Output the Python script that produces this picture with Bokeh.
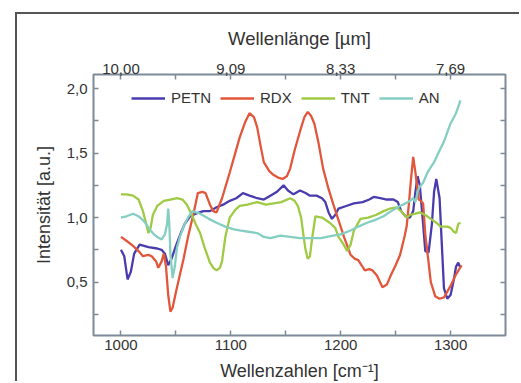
from bokeh.plotting import figure
from bokeh.models import Range1d, LinearAxis, FixedTicker, Legend, LegendItem
from bokeh.embed import file_html
from bokeh.resources import INLINE

# ---------------- data ----------------
petn_x = [1000, 1003, 1006, 1009, 1012, 1017, 1025, 1033, 1037, 1040, 1043, 1046, 1050, 1054, 1058, 1063,
          1068, 1075, 1081, 1087, 1093, 1099, 1105, 1111, 1117, 1124, 1130, 1136, 1142, 1148, 1152, 1157,
          1163, 1168, 1172, 1178, 1183, 1186, 1189, 1192, 1195, 1198, 1205, 1212, 1220, 1226, 1230, 1236,
          1242, 1248, 1252, 1255, 1259, 1263, 1266, 1268, 1270, 1272, 1275, 1277, 1280, 1283, 1285, 1287,
          1290, 1292, 1294, 1297, 1300, 1303, 1305, 1307, 1309]
petn_y = [0.75, 0.70, 0.52, 0.58, 0.72, 0.79, 0.77, 0.76, 0.75, 0.72, 0.63, 0.68, 0.78, 0.87, 0.95, 1.01,
          1.03, 1.05, 1.05, 1.08, 1.10, 1.13, 1.15, 1.19, 1.17, 1.15, 1.14, 1.17, 1.20, 1.25, 1.21, 1.18,
          1.21, 1.19, 1.17, 1.17, 1.15, 1.12, 1.04, 0.99, 1.02, 1.07, 1.09, 1.11, 1.12, 1.14, 1.16, 1.15,
          1.14, 1.14, 1.12, 1.05, 1.01, 1.00, 1.05, 1.20, 1.32, 1.25, 0.95, 0.74, 0.73, 0.95, 1.20, 1.30,
          1.15, 0.80, 0.45, 0.37, 0.40, 0.52, 0.62, 0.65, 0.61]

rdx_x = [1000, 1005, 1011, 1016, 1020, 1025, 1028, 1032, 1034, 1037, 1039, 1041, 1043, 1045, 1047, 1050,
         1054, 1057, 1061, 1066, 1070, 1074, 1077, 1081, 1084, 1087, 1092, 1099, 1104, 1108, 1113, 1117,
         1121, 1124, 1127, 1130, 1135, 1139, 1143, 1147, 1151, 1154, 1158, 1163, 1167, 1170, 1173, 1176,
         1180, 1184, 1189, 1193, 1198, 1203, 1209, 1213, 1216, 1219, 1222, 1226, 1229, 1233, 1238, 1242,
         1245, 1250, 1254, 1258, 1260, 1262, 1264, 1266, 1268, 1271, 1273, 1275, 1277, 1280, 1282, 1286,
         1290, 1294, 1300, 1305, 1310]
rdx_y = [0.85, 0.82, 0.78, 0.74, 0.70, 0.71, 0.70, 0.66, 0.61, 0.66, 0.72, 0.62, 0.40, 0.27, 0.30, 0.42,
         0.57, 0.68, 0.85, 1.03, 1.19, 1.20, 1.19, 1.10, 1.05, 1.04, 1.15, 1.35, 1.50, 1.62, 1.74, 1.81,
         1.78, 1.70, 1.56, 1.43, 1.36, 1.33, 1.31, 1.30, 1.32, 1.38, 1.52, 1.67, 1.78, 1.82, 1.79, 1.73,
         1.57, 1.38, 1.22, 1.11, 0.98, 0.85, 0.71, 0.68, 0.67, 0.63, 0.59, 0.60, 0.59, 0.55, 0.46, 0.48,
         0.54, 0.63, 0.71, 0.85, 0.93, 1.10, 1.30, 1.47, 1.35, 1.14, 1.13, 1.11, 0.87, 0.65, 0.50, 0.39,
         0.37, 0.38, 0.47, 0.56, 0.63]

tnt_x = [1000, 1005, 1011, 1016, 1020, 1023, 1025, 1027, 1029, 1033, 1039, 1045, 1051, 1056, 1060, 1064,
         1068, 1072, 1076, 1081, 1084, 1087, 1090, 1092, 1095, 1099, 1104, 1108, 1115, 1124, 1132, 1139,
         1146, 1154, 1158, 1161, 1164, 1166, 1168, 1170, 1172, 1174, 1177, 1183, 1190, 1195, 1198, 1202,
         1206, 1209, 1212, 1218, 1225, 1232, 1239, 1245, 1251, 1256, 1260, 1263, 1268, 1272, 1277, 1282,
         1287, 1291, 1297, 1300, 1303, 1305, 1307, 1309]
tnt_y = [1.18, 1.18, 1.17, 1.14, 1.05, 0.95, 0.88, 0.92, 1.02, 1.09, 1.13, 1.14, 1.15, 1.14, 1.10, 1.03,
         0.95, 0.88, 0.77, 0.65, 0.61, 0.59, 0.61, 0.66, 0.85, 1.00, 1.06, 1.09, 1.10, 1.12, 1.10, 1.11,
         1.12, 1.15, 1.13, 1.09, 1.00, 0.87, 0.75, 0.68, 0.70, 0.84, 1.01, 1.00, 0.96, 0.92, 0.85, 0.80,
         0.74, 0.79, 0.90, 0.99, 1.00, 1.02, 1.05, 1.07, 1.08, 1.04, 1.00, 1.02, 1.03, 1.04, 1.02, 0.99,
         0.96, 0.93, 0.93, 0.92, 0.89, 0.88, 0.95, 0.96]

an_x = [1000, 1005, 1011, 1016, 1020, 1023, 1026, 1030, 1033, 1037, 1040, 1042, 1043, 1044, 1045, 1047,
        1049, 1051, 1054, 1057, 1061, 1065, 1072, 1080, 1087, 1095, 1102, 1108, 1116, 1124, 1130, 1136,
        1145, 1154, 1163, 1172, 1182, 1193, 1200, 1209, 1216, 1224, 1231, 1239, 1246, 1254, 1259, 1263,
        1266, 1268, 1270, 1272, 1275, 1279, 1285, 1290, 1294, 1300, 1305, 1309]
an_y = [1.00, 1.01, 1.03, 1.01, 0.98, 0.95, 0.91, 0.87, 0.85, 0.83, 0.87, 0.95, 1.07, 0.95, 0.72, 0.53,
        0.62, 0.77, 0.86, 0.93, 1.00, 1.05, 1.03, 0.99, 0.96, 0.93, 0.91, 0.90, 0.89, 0.88, 0.85, 0.84,
        0.86, 0.85, 0.84, 0.84, 0.84, 0.86, 0.87, 0.90, 0.93, 0.96, 0.98, 1.01, 1.05, 1.09, 1.11, 1.13,
        1.15, 1.12, 1.20, 1.24, 1.27, 1.35, 1.43, 1.52, 1.59, 1.73, 1.81, 1.91]

x_ticks = [1000, 1100, 1200, 1300]
x_minor = [1050, 1150, 1250]
top_labels = ["10,00", "9,09", "8,33", "7,69"]
y_ticks = [0.5, 1.0, 1.5, 2.0]
y_minor = [0.25, 0.75, 1.25, 1.75]
y_labels = ["0,5", "1,0", "1,5", "2,0"]

series_names = ["PETN", "RDX", "TNT", "AN"]
colors = ["#4a3cae", "#e2573b", "#9fcb44", "#85cec2"]

# ---------------- figure ----------------
FONT = "Liberation Sans"
TXT = "#333333"
FRAME = "#7d8a99"

p = figure(width=504, height=369, output_backend="svg", toolbar_location=None,
           x_range=Range1d(975, 1350), y_range=Range1d(0.085, 2.11),
           x_axis_location=None, y_axis_location=None,
           min_border_left=76, min_border_top=60, min_border_right=16, min_border_bottom=41,
           background_fill_color="white", border_fill_color="white",
           styles={"margin-left": "15px", "margin-top": "12px",
                   "border-left": "2px solid #555555", "border-top": "2px solid #555555"})
p.grid.visible = False
p.outline_line_color = FRAME
p.outline_line_width = 2


def style_axis(ax):
    ax.axis_line_color = None
    ax.major_tick_in = 5
    ax.major_tick_out = 0
    ax.minor_tick_in = 5
    ax.minor_tick_out = 0
    ax.major_tick_line_color = FRAME
    ax.minor_tick_line_color = FRAME
    ax.major_tick_line_width = 1.5
    ax.minor_tick_line_width = 1.5
    ax.major_label_text_font = FONT
    ax.major_label_text_font_size = "15px"
    ax.major_label_text_color = TXT
    ax.axis_label_text_font = FONT
    ax.axis_label_text_font_size = "18px"
    ax.axis_label_text_font_style = "normal"
    ax.axis_label_text_color = TXT


xb = LinearAxis(ticker=FixedTicker(ticks=x_ticks, minor_ticks=x_minor),
                axis_label="Wellenzahlen [cm\u207b\u00b9]")
style_axis(xb)
xb.major_label_standoff = 4
xb.axis_label_standoff = 8
p.add_layout(xb, "below")

xt = LinearAxis(ticker=FixedTicker(ticks=x_ticks, minor_ticks=x_minor),
                axis_label="Wellenlänge [µm]",
                major_label_overrides={t: l for t, l in zip(x_ticks, top_labels)})
style_axis(xt)
xt.axis_label_text_font_size = "18.5px"
xt.major_label_standoff = 1
xt.axis_label_standoff = 12
p.add_layout(xt, "above")

yl = LinearAxis(ticker=FixedTicker(ticks=y_ticks, minor_ticks=y_minor),
                axis_label="Intensität [a.u.]",
                major_label_overrides={t: l for t, l in zip(y_ticks, y_labels)})
style_axis(yl)
yl.major_label_standoff = 6
yl.axis_label_standoff = 10
p.add_layout(yl, "left")

# right side: tick marks only (all as minor ticks, so no labels are drawn)
yr = LinearAxis(ticker=FixedTicker(ticks=[], minor_ticks=sorted(y_ticks + y_minor)))
style_axis(yr)
yr.major_label_standoff = 0
p.add_layout(yr, "right")

data = [(petn_x, petn_y), (rdx_x, rdx_y), (tnt_x, tnt_y), (an_x, an_y)]
renderers = []
for (xs, ys), c in zip(data, colors):
    r = p.line(xs, ys, line_color=c, line_width=2.3)
    renderers.append(r)

items = [LegendItem(label=n, renderers=[r]) for n, r in zip(series_names, renderers)]
legend = Legend(items=items, orientation="horizontal", location=(38, 229),
                glyph_width=34, glyph_height=16, label_height=16, label_standoff=6,
                spacing=9, padding=2, margin=0,
                label_text_font=FONT, label_text_font_size="15px", label_text_color=TXT,
                background_fill_alpha=0, border_line_color=None)
p.add_layout(legend, "center")

open("out.html", "w").write(file_html(p, INLINE))
